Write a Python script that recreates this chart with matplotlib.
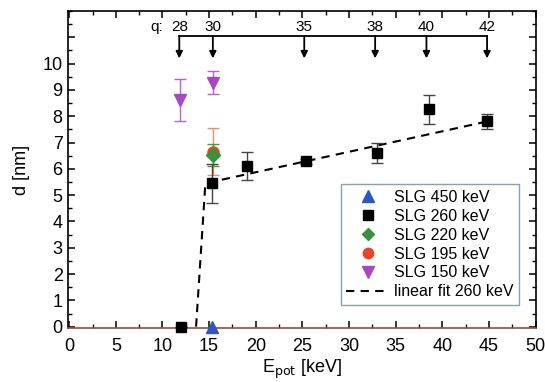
import matplotlib
matplotlib.use("Agg")
import matplotlib.pyplot as plt
from matplotlib.lines import Line2D
from matplotlib.ticker import MultipleLocator

plt.rcParams["font.family"] = ["Liberation Sans", "DejaVu Sans"]

# SLG 260 keV
e260 = [12.0, 15.3, 19.1, 25.4, 33.0, 38.6, 44.8]
d260 = [0.0, 5.45, 6.1, 6.28, 6.62, 8.26, 7.8]
err260 = [0.0, 0.75, 0.53, 0.1, 0.38, 0.56, 0.3]

# SLG 450 keV
e450 = [15.3]
d450 = [0.0]

# SLG 220 keV
e220 = [15.4]
d220 = [6.54]
err220 = [0.42]

# SLG 195 keV
e195 = [15.4]
d195 = [6.65]
err195 = [0.9]

# SLG 150 keV
e150 = [11.9, 15.4]
d150 = [8.6, 9.28]
err150 = [0.8, 0.43]

# linear fit 260 keV
fit_x = [13.6, 14.6, 44.8]
fit_y = [0.0, 5.45, 7.8]

# charge states on top
q_labels = ["28", "30", "35", "38", "40", "42"]
q_pos = [11.8, 15.4, 25.2, 32.8, 38.3, 44.8]

c450, c260, c220, c195, c150 = "#2f55c0", "black", "#3c8f3c", "#e8452a", "#a848c0"
dash = (0, (4, 3))

fig = plt.figure(figsize=(5.45, 3.82), dpi=100)
ax = fig.add_axes([0.1253, 0.1414, 0.8591, 0.8298])

ax.plot(fit_x, fit_y, ls=dash, color="black", lw=1.5, zorder=2)

ax.errorbar(e195, d195, yerr=err195, fmt="o", color=c195, ecolor="#e8906a",
            ms=8, capsize=4, elinewidth=1, zorder=3)
ax.errorbar(e220, d220, yerr=err220, fmt="D", color=c220, ecolor="#3c9f3c",
            ms=7, capsize=4, elinewidth=1, zorder=4)
ax.errorbar(e260, d260, yerr=err260, fmt="s", color=c260, ecolor="#444444",
            ms=7.5, capsize=4, elinewidth=1, zorder=5, clip_on=False)
ax.plot(e450, d450, "^", color=c450, ms=9, zorder=5, clip_on=False)
ax.errorbar(e150, d150, yerr=err150, fmt="v", color=c150, ecolor="#b860cc",
            ms=9, capsize=4, elinewidth=1, zorder=5)

# q arrows
y_bar = 11.05
ax.plot([q_pos[0], q_pos[-1]], [y_bar, y_bar], color="black", lw=1.3, zorder=6)
for xp, lab in zip(q_pos, q_labels):
    ax.annotate("", xy=(xp, 10.2), xytext=(xp, y_bar),
                arrowprops=dict(arrowstyle="-|>", color="black", lw=1.3,
                                mutation_scale=10, shrinkA=0, shrinkB=0))
    ax.text(xp, 11.38, lab, ha="center", va="center", fontsize=11)
ax.text(10.1, 11.38, "q:", ha="right", va="center", fontsize=11)

ax.set_xlim(-0.1, 50.1)
ax.set_ylim(-0.05, 12)
ax.xaxis.set_major_locator(MultipleLocator(5))
ax.xaxis.set_minor_locator(MultipleLocator(2.5))
ax.set_yticks(range(0, 12))
ax.set_yticklabels([str(i) for i in range(0, 11)] + [""])
ax.yaxis.set_minor_locator(MultipleLocator(0.5))
ax.tick_params(which="both", direction="in", top=True, right=True, labelsize=13)
ax.tick_params(which="major", length=5, width=1.1)
ax.tick_params(which="minor", length=3, width=1.0)
ax.tick_params(axis="x", pad=7)
ax.tick_params(axis="y", pad=4)
for s in ax.spines.values():
    s.set_linewidth(1.2)
ax.spines["bottom"].set_color("#a04a36")

ax.set_xlabel(r"E$_{\mathrm{pot}}$ [keV]", fontsize=13, labelpad=2)
ax.set_ylabel("d [nm]", fontsize=13, labelpad=9)

handles = [
    Line2D([], [], ls="none", marker="^", color=c450, ms=8),
    Line2D([], [], ls="none", marker="s", color=c260, ms=7),
    Line2D([], [], ls="none", marker="D", color=c220, ms=6.5),
    Line2D([], [], ls="none", marker="o", color=c195, ms=7.5),
    Line2D([], [], ls="none", marker="v", color=c150, ms=8),
    Line2D([], [], ls=dash, color="black", lw=1.5),
]
labels = ["SLG 450 keV", "SLG 260 keV", "SLG 220 keV", "SLG 195 keV",
          "SLG 150 keV", "linear fit 260 keV"]
leg = ax.legend(handles, labels, loc="lower right",
                bbox_to_anchor=(0.98, 0.048), fontsize=11.5, frameon=True,
                fancybox=False, edgecolor="#6a8a9a", handlelength=2.7,
                handletextpad=0.3, labelspacing=0.24, borderpad=0.35,
                numpoints=1)
leg.get_frame().set_linewidth(1.0)

fig.savefig("out.png", dpi=100)
